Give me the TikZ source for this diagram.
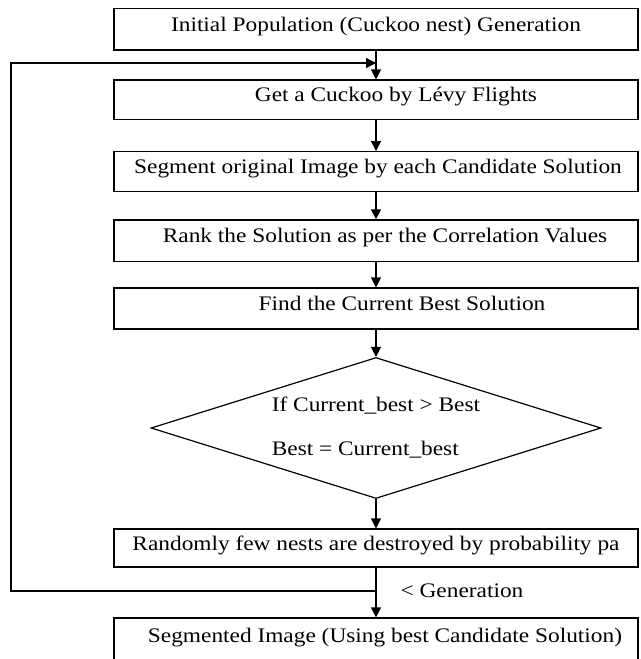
\documentclass[tikz,border=0pt]{standalone}
\usepackage{fontspec}
\setmainfont{Liberation Serif}[FakeStretch=1.13]
\usetikzlibrary{shapes.geometric,arrows.meta}

\newcommand{\nudge}[1]{\hspace*{#1}}

\tikzset{every picture/.style={line width=0.9pt}}
\tikzset{
  flowbox/.style={draw, rectangle, minimum width=393pt, inner sep=0pt,
    text height=10.5pt, text depth=7.5pt, font=\fontsize{15.5}{19}\selectfont},
  decision/.style={draw, diamond, shape aspect=3.2, minimum width=337.5pt,
    minimum height=105.75pt, inner sep=0pt, align=left,
    font=\fontsize{15.5}{33}\selectfont},
  flowarrow/.style={-{Triangle[length=7.5pt,width=7.5pt]}}
}

\begin{document}
\begin{tikzpicture}[x=0.75pt,y=0.75pt,yscale=-1,xscale=1]
\useasboundingbox (0,0) rectangle (640,659);

%Shape: Rectangle [id:init]
\node [flowbox, minimum height=31.3pt] (init) at (376,29.2) {Initial Population (Cuckoo nest) Generation};
%Shape: Rectangle [id:levy]
\node [flowbox, minimum height=29.5pt] (levy) at (376,99.7) {\nudge{30pt}Get a Cuckoo by Lévy Flights};
%Shape: Rectangle [id:segm]
\node [flowbox, minimum height=30pt] (segm) at (376,171.7) {\nudge{3pt}Segment original Image by each Candidate Solution};
%Shape: Rectangle [id:rank]
\node [flowbox, minimum height=31.3pt] (rank) at (376,240.8) {\nudge{13.5pt}Rank the Solution as per the Correlation Values};
%Shape: Rectangle [id:best]
\node [flowbox, minimum height=30.75pt] (best) at (376,308.5) {\nudge{39pt}Find the Current Best Solution};
%Shape: Diamond [id:cond]
\node [decision] (cond) at (376,428) {If Current\_best > Best\\Best = Current\_best};
%Shape: Rectangle [id:rand]
\node [flowbox, minimum height=28.5pt] (rand) at (376,548) {Randomly few nests are destroyed by probability pa};
%Shape: Rectangle [id:final]
\node [flowbox, minimum height=33pt] (final) at (376,640) {\nudge{13.5pt}Segmented Image (Using best Candidate Solution)};

%Straight Lines
\draw [flowarrow] (init) -- (levy);
\draw [flowarrow] (levy) -- (segm);
\draw [flowarrow] (segm) -- (rank);
\draw [flowarrow] (rank) -- (best);
\draw [flowarrow] (best) -- (cond);
\draw [flowarrow] (cond) -- (rand);
\draw [flowarrow] (rand) -- (final);

%Loop back
\coordinate (jn) at (376,591);
\coordinate (lp) at (376,63);
\draw [flowarrow] (jn) -- ++(-365,0) |- (lp);

% Text Node
\node [anchor=base west, inner sep=0pt, font=\fontsize{15.5}{19}\selectfont] (gen) at (400,597) {< Generation};

\end{tikzpicture}
\end{document}
